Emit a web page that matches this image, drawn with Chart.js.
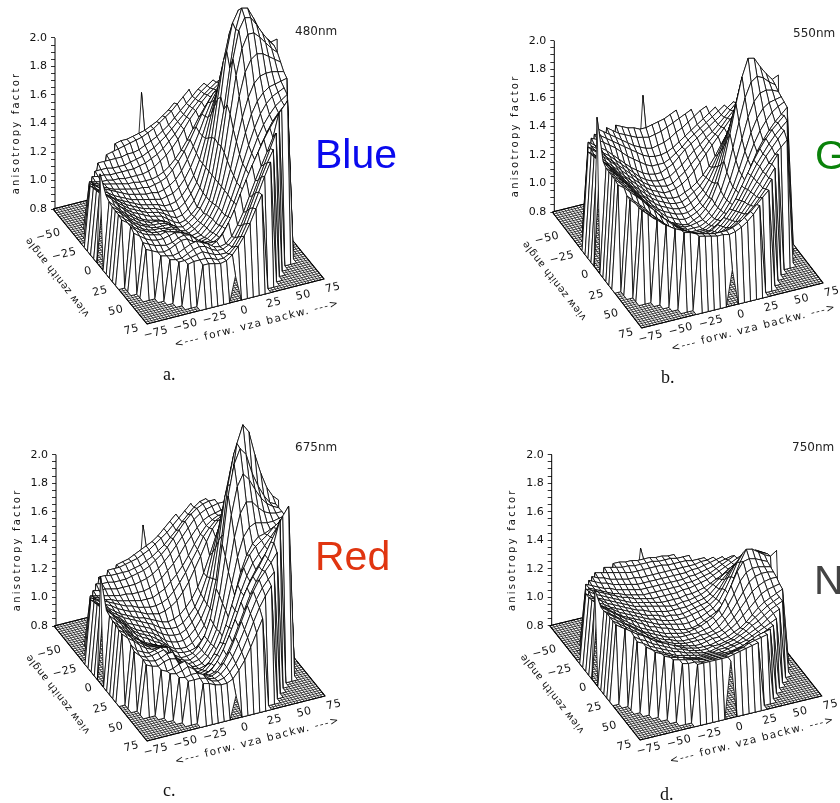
<!DOCTYPE html>
<html>
<head>
<meta charset="utf-8">
<style>
html, body { margin: 0; background: #fff; }
body { position: relative; width: 840px; height: 803px; overflow: hidden; }
canvas { position: absolute; display: block; }
.t { position: absolute; line-height: 1; white-space: nowrap; }
.nm { font: 12px/1 "DejaVu Sans"; color: #222; }
.band { font: 41px/1 "Liberation Sans"; }
.cap { font: 18px/1 "Liberation Serif"; color: #111; }
</style>
<script src="https://cdn.jsdelivr.net/npm/chart.js@4/dist/chart.umd.min.js"></script>
</head>
<body>
<canvas id="plotA" width="420" height="400" style="left:0;top:0"></canvas>
<canvas id="plotB" width="420" height="400" style="left:420px;top:0"></canvas>
<canvas id="plotC" width="420" height="400" style="left:0;top:403px"></canvas>
<canvas id="plotD" width="420" height="400" style="left:420px;top:403px"></canvas>

<div class="t nm" style="left:295px;top:25px">480nm</div>
<div class="t nm" style="left:793px;top:27px">550nm</div>
<div class="t nm" style="left:295px;top:441px">675nm</div>
<div class="t nm" style="left:792px;top:441px">750nm</div>
<div class="t band" style="left:315px;top:134px;color:#0a0aee">Blue</div>
<div class="t band" style="left:815px;top:135px;color:#0a820a">Green</div>
<div class="t band" style="left:315px;top:536px;color:#e03510">Red</div>
<div class="t band" style="left:814px;top:560px;color:#444">NIR</div>
<div class="t cap" style="left:163px;top:365px">a.</div>
<div class="t cap" style="left:661px;top:368px">b.</div>
<div class="t cap" style="left:163px;top:781px">c.</div>
<div class="t cap" style="left:660px;top:785px">d.</div>

<script>
// /---------------Axis values----------------/
const vzaGrid = [-75,-70,-65,-60,-55,-50,-45,-40,-35,-30,-25,-20,-15,-10,-5,0,5,10,15,20,25,30,35,40,45,50,55,60,65,70,75];
const forwTicks = [-75, -50, -25, 0, 25, 50, 75];
const viewTicks = [-50, -25, 0, 25, 50, 75];
const factorLabels = [0.8, 1.0, 1.2, 1.4, 1.6, 1.8, 2.0];
const floorValue = 0.8;

// /---------------Anisotropy factor, one row per view zenith angle (-75 to 75)----------------/
// rows only hold the cells inside the 75 degree circle, the rest of the grid sits on the floor
const blueRows = [
[1.46],
[1.18,1.19,1.19,1.20,1.21,1.22,1.24,1.26,1.29,1.32,1.36],
[1.15,1.16,1.17,1.18,1.19,1.20,1.21,1.23,1.25,1.28,1.31,1.34,1.38,1.42,1.46],
[1.14,1.14,1.14,1.14,1.14,1.15,1.15,1.16,1.18,1.20,1.22,1.25,1.28,1.32,1.36,1.40,1.44,1.48,1.51],
[1.12,1.12,1.12,1.11,1.11,1.11,1.12,1.13,1.14,1.16,1.18,1.21,1.24,1.28,1.32,1.36,1.41,1.45,1.49,1.52,1.55],
[1.12,1.11,1.11,1.10,1.10,1.10,1.10,1.10,1.11,1.12,1.14,1.16,1.19,1.23,1.27,1.32,1.37,1.42,1.46,1.50,1.53,1.56,1.58],
[1.12,1.11,1.10,1.10,1.09,1.09,1.08,1.08,1.08,1.08,1.09,1.11,1.14,1.17,1.21,1.26,1.32,1.38,1.43,1.48,1.52,1.55,1.58,1.60,1.62],
[1.14,1.12,1.11,1.10,1.09,1.08,1.07,1.07,1.06,1.06,1.06,1.07,1.09,1.12,1.16,1.21,1.27,1.34,1.41,1.47,1.53,1.57,1.60,1.62,1.64],
[1.17,1.15,1.13,1.11,1.09,1.08,1.07,1.06,1.05,1.05,1.04,1.05,1.06,1.08,1.12,1.17,1.23,1.30,1.38,1.46,1.53,1.59,1.63,1.66,1.68,1.70,1.72],
[1.19,1.16,1.14,1.12,1.10,1.08,1.06,1.05,1.04,1.03,1.03,1.02,1.03,1.05,1.08,1.13,1.20,1.28,1.37,1.47,1.56,1.63,1.68,1.72,1.75,1.77,1.79],
[1.22,1.19,1.16,1.14,1.11,1.09,1.07,1.05,1.04,1.03,1.02,1.01,1.00,1.01,1.02,1.05,1.10,1.17,1.26,1.37,1.49,1.60,1.69,1.76,1.80,1.82,1.84,1.85,1.86],
[1.23,1.20,1.17,1.14,1.11,1.09,1.07,1.05,1.03,1.02,1.01,1.00,.98,.98,.99,1.02,1.07,1.14,1.24,1.38,1.54,1.69,1.81,1.89,1.93,1.94,1.94,1.93,1.92],
[1.24,1.21,1.18,1.15,1.12,1.09,1.07,1.05,1.03,1.02,1.01,.99,.97,.96,.97,1.00,1.05,1.12,1.24,1.41,1.62,1.83,1.98,2.07,2.09,2.07,2.04,2.01,1.98],
[1.25,1.22,1.18,1.15,1.12,1.09,1.07,1.05,1.03,1.02,1.01,.99,.96,.94,.95,.98,1.03,1.11,1.24,1.44,1.70,1.96,2.14,2.22,2.22,2.18,2.12,2.07,2.03],
[1.26,1.22,1.18,1.15,1.12,1.09,1.07,1.05,1.03,1.02,1.01,.98,.95,.93,.94,.97,1.01,1.10,1.24,1.46,1.74,2.05,2.24,2.32,2.31,2.24,2.17,2.10,2.06],
[1.45,1.29,1.25,1.20,1.16,1.12,1.09,1.06,1.04,1.03,1.02,1.00,.97,.94,.93,.95,.98,1.03,1.10,1.24,1.45,1.68,1.96,2.22,2.36,2.35,2.27,2.18,2.11,2.07,2.08],
[1.27,1.23,1.19,1.15,1.12,1.09,1.07,1.05,1.05,1.04,1.02,.98,.94,.93,.95,.98,1.02,1.10,1.24,1.46,1.74,2.05,2.24,2.32,2.31,2.25,2.18,2.12,2.07],
[1.26,1.23,1.19,1.15,1.12,1.09,1.07,1.06,1.06,1.05,1.03,.99,.95,.94,.96,.99,1.04,1.11,1.24,1.44,1.70,1.96,2.14,2.23,2.23,2.19,2.14,2.09,2.05],
[1.26,1.23,1.19,1.15,1.12,1.10,1.08,1.07,1.07,1.07,1.05,1.00,.96,.95,.96,1.00,1.05,1.12,1.24,1.41,1.62,1.84,2.00,2.08,2.11,2.10,2.07,2.04,2.01],
[1.26,1.22,1.19,1.15,1.12,1.10,1.09,1.09,1.08,1.08,1.06,1.01,.97,.96,.97,1.01,1.06,1.13,1.24,1.38,1.56,1.72,1.85,1.94,1.98,1.99,1.99,1.98,1.97],
[1.25,1.22,1.18,1.15,1.13,1.11,1.10,1.10,1.10,1.09,1.07,1.03,.99,.97,.98,1.01,1.06,1.13,1.24,1.36,1.50,1.64,1.76,1.84,1.89,1.92,1.93,1.94,1.95],
[1.22,1.18,1.15,1.13,1.12,1.11,1.12,1.11,1.10,1.08,1.05,1.01,.99,1.00,1.03,1.07,1.13,1.23,1.34,1.46,1.58,1.69,1.78,1.84,1.88,1.90,1.92],
[1.20,1.17,1.14,1.12,1.11,1.11,1.12,1.13,1.12,1.10,1.06,1.03,1.01,1.01,1.04,1.09,1.15,1.24,1.34,1.45,1.55,1.65,1.73,1.79,1.84,1.87,1.90],
[1.15,1.13,1.11,1.10,1.09,1.10,1.12,1.13,1.12,1.08,1.05,1.03,1.03,1.05,1.10,1.16,1.24,1.34,1.44,1.53,1.62,1.70,1.77,1.82,1.86],
[1.13,1.11,1.09,1.08,1.09,1.11,1.13,1.13,1.10,1.07,1.05,1.04,1.06,1.10,1.17,1.25,1.35,1.44,1.53,1.61,1.69,1.76,1.82,1.87,1.92],
[1.09,1.08,1.07,1.08,1.10,1.12,1.13,1.11,1.09,1.06,1.05,1.06,1.10,1.17,1.25,1.35,1.45,1.54,1.63,1.72,1.88],
[1.08,1.07,1.07,1.09,1.11,1.12,1.11,1.08,1.06,1.06,1.08,1.12,1.19,1.28,1.38,1.48,1.58,1.68,1.78],
[1.08,1.08,1.09,1.10,1.11,1.09,1.07,1.06,1.06,1.09,1.15,1.23,1.33,1.43,1.53,1.62,1.70],
[1.08,1.09,1.09,1.09,1.08,1.06,1.06,1.08,1.12,1.18,1.26,1.36,1.46,1.56,1.65],
[1.08,1.08,1.07,1.06,1.07,1.10,1.15,1.21,1.29,1.38,1.47],
[.98]
];
const greenRows = [
[1.46],
[1.33,1.31,1.29,1.28,1.26,1.26,1.27,1.28,1.29,1.31,1.33],
[1.36,1.33,1.30,1.28,1.26,1.24,1.23,1.22,1.23,1.24,1.26,1.28,1.30,1.32,1.34],
[1.40,1.37,1.34,1.31,1.28,1.25,1.22,1.20,1.18,1.17,1.18,1.19,1.21,1.24,1.26,1.29,1.32,1.35,1.37],
[1.40,1.38,1.35,1.32,1.29,1.26,1.23,1.20,1.17,1.15,1.14,1.14,1.15,1.17,1.20,1.23,1.26,1.29,1.32,1.35,1.38],
[1.41,1.39,1.36,1.33,1.30,1.26,1.22,1.19,1.16,1.13,1.11,1.11,1.11,1.13,1.16,1.19,1.23,1.26,1.29,1.32,1.35,1.38,1.41],
[1.42,1.39,1.36,1.33,1.29,1.25,1.21,1.17,1.14,1.11,1.09,1.08,1.08,1.10,1.12,1.16,1.20,1.23,1.26,1.29,1.32,1.35,1.38,1.42,1.45],
[1.42,1.39,1.35,1.32,1.28,1.24,1.20,1.16,1.12,1.09,1.07,1.06,1.06,1.07,1.10,1.13,1.17,1.21,1.24,1.28,1.31,1.35,1.39,1.43,1.47],
[1.45,1.42,1.39,1.35,1.31,1.27,1.23,1.19,1.15,1.11,1.08,1.06,1.05,1.04,1.05,1.08,1.11,1.15,1.19,1.23,1.28,1.32,1.36,1.41,1.45,1.49,1.52],
[1.46,1.43,1.39,1.35,1.31,1.26,1.22,1.18,1.14,1.10,1.07,1.05,1.03,1.03,1.04,1.06,1.09,1.13,1.18,1.23,1.28,1.33,1.38,1.43,1.48,1.52,1.56],
[1.48,1.45,1.42,1.38,1.34,1.30,1.25,1.21,1.17,1.13,1.09,1.06,1.04,1.02,1.01,1.01,1.03,1.05,1.08,1.12,1.17,1.23,1.30,1.37,1.43,1.49,1.54,1.58,1.62],
[1.49,1.46,1.42,1.38,1.34,1.29,1.25,1.20,1.16,1.12,1.08,1.05,1.03,1.01,1.00,1.00,1.02,1.05,1.08,1.13,1.19,1.27,1.36,1.44,1.52,1.58,1.62,1.65,1.68],
[1.50,1.47,1.43,1.39,1.34,1.29,1.24,1.20,1.15,1.11,1.07,1.04,1.02,1.00,.99,.99,1.01,1.04,1.08,1.14,1.22,1.32,1.43,1.54,1.63,1.69,1.72,1.73,1.74],
[1.51,1.48,1.44,1.39,1.34,1.29,1.24,1.19,1.15,1.10,1.06,1.03,1.01,.99,.98,.98,1.00,1.03,1.08,1.15,1.25,1.38,1.52,1.66,1.76,1.81,1.81,1.80,1.78],
[1.52,1.48,1.44,1.39,1.34,1.29,1.24,1.19,1.14,1.10,1.06,1.02,1.00,.98,.97,.98,1.00,1.03,1.08,1.17,1.29,1.45,1.62,1.78,1.88,1.91,1.88,1.84,1.81],
[1.87,1.55,1.49,1.44,1.39,1.34,1.29,1.24,1.18,1.13,1.09,1.05,1.01,.99,.97,.96,.98,1.00,1.04,1.10,1.20,1.34,1.52,1.72,1.90,2.02,2.01,1.94,1.88,1.83,1.85],
[1.53,1.49,1.45,1.40,1.35,1.30,1.25,1.19,1.14,1.10,1.06,1.03,1.00,.98,.98,.99,1.00,1.04,1.09,1.17,1.29,1.45,1.62,1.78,1.88,1.91,1.89,1.85,1.82],
[1.53,1.49,1.45,1.41,1.36,1.31,1.26,1.20,1.15,1.11,1.07,1.04,1.01,.99,.99,.99,1.01,1.04,1.09,1.16,1.26,1.39,1.53,1.67,1.77,1.82,1.83,1.82,1.80],
[1.53,1.49,1.45,1.41,1.36,1.31,1.26,1.21,1.16,1.12,1.08,1.05,1.02,1.00,1.00,1.00,1.02,1.05,1.10,1.16,1.24,1.35,1.47,1.59,1.68,1.74,1.77,1.78,1.79],
[1.53,1.49,1.45,1.41,1.36,1.31,1.27,1.22,1.18,1.13,1.10,1.07,1.04,1.02,1.02,1.02,1.04,1.07,1.11,1.17,1.25,1.34,1.44,1.54,1.62,1.68,1.73,1.76,1.78],
[1.52,1.49,1.45,1.41,1.37,1.32,1.28,1.23,1.19,1.15,1.11,1.08,1.06,1.04,1.04,1.04,1.06,1.09,1.13,1.18,1.25,1.33,1.42,1.51,1.58,1.64,1.69,1.73,1.77],
[1.46,1.42,1.38,1.34,1.29,1.25,1.21,1.17,1.14,1.11,1.09,1.07,1.06,1.06,1.07,1.10,1.14,1.19,1.25,1.33,1.41,1.49,1.56,1.62,1.67,1.71,1.75],
[1.46,1.42,1.38,1.34,1.30,1.26,1.22,1.19,1.16,1.13,1.11,1.09,1.08,1.08,1.09,1.12,1.16,1.21,1.27,1.34,1.42,1.49,1.55,1.61,1.66,1.70,1.74],
[1.42,1.38,1.34,1.30,1.26,1.23,1.20,1.18,1.15,1.13,1.11,1.10,1.10,1.11,1.14,1.18,1.23,1.29,1.36,1.43,1.50,1.56,1.61,1.66,1.71],
[1.43,1.39,1.35,1.31,1.28,1.25,1.22,1.20,1.18,1.16,1.14,1.13,1.13,1.14,1.16,1.20,1.25,1.31,1.37,1.43,1.49,1.54,1.59,1.63,1.67],
[1.37,1.33,1.30,1.27,1.24,1.22,1.20,1.18,1.17,1.16,1.16,1.17,1.19,1.22,1.27,1.32,1.38,1.44,1.50,1.56,1.62],
[1.35,1.32,1.29,1.27,1.25,1.23,1.21,1.20,1.19,1.19,1.20,1.22,1.25,1.29,1.34,1.39,1.44,1.50,1.56],
[1.34,1.32,1.30,1.28,1.26,1.25,1.24,1.23,1.23,1.24,1.25,1.28,1.32,1.36,1.41,1.46,1.52],
[1.33,1.32,1.30,1.29,1.28,1.27,1.27,1.27,1.28,1.30,1.33,1.36,1.40,1.44,1.48],
[1.31,1.30,1.29,1.28,1.28,1.27,1.28,1.30,1.33,1.37,1.42],
[1.05]
];
const redRows = [
[1.35],
[1.15,1.16,1.17,1.19,1.21,1.23,1.25,1.28,1.32,1.36,1.40],
[1.16,1.16,1.16,1.17,1.18,1.19,1.21,1.23,1.26,1.29,1.32,1.36,1.40,1.44,1.48],
[1.16,1.16,1.15,1.15,1.15,1.15,1.16,1.17,1.19,1.21,1.24,1.27,1.31,1.35,1.40,1.44,1.48,1.51,1.52],
[1.15,1.14,1.14,1.13,1.13,1.13,1.14,1.15,1.16,1.18,1.21,1.24,1.28,1.33,1.38,1.43,1.47,1.50,1.52,1.53,1.53],
[1.14,1.13,1.13,1.12,1.11,1.11,1.11,1.11,1.12,1.13,1.15,1.18,1.22,1.26,1.31,1.36,1.41,1.46,1.49,1.51,1.52,1.53,1.53],
[1.14,1.13,1.12,1.11,1.10,1.09,1.09,1.08,1.08,1.08,1.09,1.11,1.14,1.18,1.22,1.27,1.33,1.38,1.43,1.47,1.49,1.50,1.51,1.52,1.52],
[1.16,1.14,1.12,1.11,1.09,1.08,1.07,1.06,1.05,1.05,1.05,1.07,1.09,1.13,1.17,1.22,1.28,1.35,1.41,1.46,1.49,1.51,1.51,1.52,1.52],
[1.19,1.17,1.15,1.13,1.11,1.09,1.07,1.06,1.04,1.03,1.02,1.02,1.03,1.05,1.09,1.14,1.20,1.27,1.34,1.42,1.47,1.51,1.53,1.53,1.53,1.54,1.54],
[1.21,1.18,1.15,1.13,1.10,1.08,1.06,1.05,1.03,1.01,1.00,.99,1.00,1.02,1.05,1.10,1.16,1.24,1.32,1.41,1.49,1.54,1.56,1.56,1.56,1.56,1.56],
[1.24,1.21,1.18,1.15,1.12,1.09,1.07,1.05,1.03,1.02,1.00,.98,.96,.95,.96,.98,1.02,1.07,1.14,1.23,1.34,1.46,1.56,1.61,1.63,1.63,1.62,1.62,1.62],
[1.25,1.22,1.19,1.15,1.12,1.09,1.07,1.05,1.03,1.01,.99,.96,.94,.93,.93,.95,.99,1.04,1.12,1.23,1.39,1.55,1.68,1.75,1.76,1.74,1.71,1.69,1.67],
[1.26,1.23,1.19,1.15,1.12,1.08,1.06,1.04,1.02,1.00,.97,.94,.92,.91,.91,.93,.97,1.03,1.11,1.25,1.45,1.68,1.84,1.91,1.90,1.85,1.79,1.75,1.72],
[1.27,1.24,1.20,1.16,1.12,1.08,1.05,1.03,1.01,.99,.96,.92,.90,.89,.89,.91,.95,1.01,1.10,1.27,1.53,1.82,2.01,2.09,2.04,1.96,1.88,1.82,1.77],
[1.28,1.24,1.20,1.16,1.12,1.08,1.05,1.03,1.01,.98,.95,.91,.88,.87,.87,.89,.93,.99,1.10,1.29,1.59,1.93,2.14,2.24,2.19,2.05,1.95,1.86,1.80],
[1.55,1.30,1.26,1.21,1.17,1.12,1.08,1.05,1.03,1.00,.98,.95,.91,.88,.87,.87,.88,.92,.98,1.10,1.30,1.60,1.96,2.24,2.36,2.30,2.13,1.99,1.88,1.81,1.77],
[1.29,1.25,1.21,1.16,1.11,1.07,1.04,1.02,1.00,.98,.95,.90,.87,.87,.88,.92,.98,1.09,1.29,1.59,1.92,2.13,2.23,2.18,2.04,1.94,1.86,1.80,1.78],
[1.28,1.24,1.20,1.16,1.12,1.08,1.05,1.04,1.02,.99,.95,.90,.88,.87,.89,.92,.98,1.08,1.27,1.53,1.81,2.00,2.08,2.03,1.95,1.88,1.83,1.80,1.78],
[1.28,1.24,1.20,1.16,1.13,1.09,1.07,1.06,1.05,1.01,.95,.91,.88,.88,.89,.92,.98,1.07,1.24,1.45,1.68,1.84,1.91,1.90,1.85,1.81,1.79,1.78,1.78],
[1.27,1.24,1.20,1.16,1.13,1.10,1.09,1.08,1.07,1.02,.96,.92,.89,.88,.89,.93,.99,1.08,1.22,1.39,1.57,1.70,1.76,1.78,1.77,1.76,1.76,1.77,1.78],
[1.27,1.23,1.20,1.16,1.13,1.11,1.11,1.11,1.09,1.02,.96,.92,.90,.89,.90,.93,.99,1.07,1.19,1.34,1.49,1.60,1.67,1.71,1.72,1.74,1.76,1.78,1.80],
[1.21,1.16,1.14,1.12,1.13,1.14,1.13,1.04,.98,.93,.91,.90,.91,.94,1.00,1.07,1.18,1.31,1.44,1.55,1.63,1.68,1.71,1.74,1.78,1.81,1.85],
[1.19,1.15,1.13,1.13,1.14,1.15,1.11,1.03,.97,.94,.92,.92,.93,.97,1.02,1.09,1.19,1.30,1.42,1.52,1.60,1.65,1.70,1.75,1.80,1.84,1.88],
[1.15,1.13,1.12,1.13,1.15,1.15,1.07,1.01,.97,.95,.94,.95,.98,1.03,1.11,1.21,1.31,1.42,1.51,1.58,1.64,1.70,1.77,1.85,1.92],
[1.14,1.12,1.11,1.13,1.14,1.13,1.07,1.01,.98,.97,.97,.99,1.04,1.11,1.20,1.30,1.41,1.50,1.57,1.63,1.70,1.78,1.86,1.94,2.00],
[1.11,1.09,1.10,1.12,1.13,1.09,1.04,1.00,.99,1.00,1.04,1.10,1.18,1.28,1.38,1.48,1.56,1.63,1.70,1.80,1.95],
[1.10,1.09,1.10,1.12,1.09,1.04,1.01,1.01,1.03,1.08,1.15,1.24,1.34,1.44,1.53,1.60,1.65,1.70,1.76],
[1.09,1.08,1.09,1.09,1.07,1.03,1.02,1.04,1.08,1.14,1.22,1.31,1.41,1.50,1.57,1.62,1.66],
[1.08,1.08,1.08,1.07,1.04,1.03,1.04,1.07,1.12,1.19,1.28,1.38,1.47,1.54,1.60],
[1.07,1.06,1.04,1.03,1.03,1.05,1.10,1.16,1.24,1.33,1.42],
[.96]
];
const nirRows = [
[1.19],
[1.16,1.16,1.15,1.15,1.14,1.14,1.14,1.13,1.13,1.12,1.12],
[1.18,1.17,1.16,1.15,1.15,1.14,1.14,1.14,1.14,1.13,1.13,1.13,1.12,1.12,1.12],
[1.19,1.18,1.17,1.16,1.15,1.14,1.13,1.13,1.13,1.13,1.13,1.13,1.12,1.12,1.12,1.12,1.11,1.11,1.11],
[1.20,1.18,1.17,1.15,1.14,1.13,1.12,1.12,1.11,1.11,1.11,1.11,1.11,1.11,1.11,1.11,1.11,1.11,1.12,1.12,1.13],
[1.21,1.19,1.17,1.16,1.14,1.13,1.12,1.11,1.10,1.10,1.10,1.10,1.10,1.10,1.10,1.10,1.10,1.11,1.11,1.12,1.13,1.14,1.15],
[1.22,1.20,1.18,1.16,1.15,1.13,1.12,1.11,1.10,1.09,1.09,1.09,1.09,1.09,1.09,1.09,1.09,1.10,1.10,1.11,1.12,1.13,1.15,1.16,1.17],
[1.22,1.20,1.18,1.16,1.14,1.13,1.11,1.10,1.09,1.08,1.08,1.08,1.08,1.08,1.08,1.08,1.09,1.09,1.10,1.11,1.12,1.14,1.16,1.18,1.20],
[1.25,1.23,1.21,1.19,1.17,1.15,1.13,1.12,1.10,1.09,1.08,1.07,1.07,1.07,1.07,1.07,1.08,1.08,1.09,1.10,1.11,1.13,1.15,1.17,1.19,1.21,1.23],
[1.26,1.23,1.21,1.19,1.17,1.15,1.13,1.11,1.10,1.09,1.08,1.07,1.06,1.06,1.06,1.06,1.07,1.07,1.08,1.09,1.11,1.13,1.15,1.18,1.20,1.22,1.25],
[1.28,1.25,1.23,1.21,1.19,1.17,1.15,1.13,1.11,1.10,1.09,1.08,1.07,1.06,1.05,1.05,1.06,1.06,1.07,1.08,1.10,1.13,1.16,1.19,1.22,1.25,1.27,1.29,1.30],
[1.28,1.26,1.24,1.21,1.19,1.17,1.15,1.13,1.11,1.10,1.08,1.07,1.06,1.05,1.05,1.05,1.05,1.06,1.07,1.08,1.10,1.14,1.18,1.22,1.26,1.29,1.31,1.32,1.32],
[1.29,1.26,1.24,1.21,1.19,1.17,1.15,1.13,1.11,1.09,1.08,1.07,1.05,1.05,1.04,1.04,1.05,1.06,1.07,1.08,1.11,1.15,1.21,1.27,1.31,1.34,1.35,1.35,1.34],
[1.30,1.27,1.24,1.22,1.19,1.17,1.15,1.13,1.11,1.09,1.08,1.06,1.05,1.04,1.04,1.04,1.05,1.06,1.07,1.09,1.12,1.18,1.25,1.32,1.37,1.39,1.39,1.37,1.36],
[1.31,1.28,1.25,1.22,1.19,1.17,1.15,1.13,1.11,1.09,1.07,1.06,1.05,1.04,1.03,1.03,1.04,1.05,1.07,1.09,1.13,1.20,1.28,1.37,1.43,1.44,1.42,1.40,1.38],
[1.45,1.32,1.29,1.26,1.23,1.20,1.18,1.15,1.13,1.10,1.09,1.07,1.06,1.04,1.03,1.02,1.02,1.03,1.05,1.07,1.09,1.13,1.20,1.30,1.40,1.48,1.47,1.44,1.41,1.39,1.42],
[1.32,1.29,1.26,1.23,1.20,1.17,1.14,1.12,1.10,1.08,1.06,1.05,1.04,1.03,1.03,1.04,1.05,1.07,1.09,1.13,1.20,1.28,1.37,1.43,1.44,1.43,1.41,1.39],
[1.33,1.30,1.27,1.23,1.20,1.17,1.14,1.12,1.10,1.08,1.06,1.05,1.04,1.04,1.04,1.04,1.05,1.06,1.09,1.12,1.18,1.25,1.33,1.38,1.40,1.40,1.39,1.38],
[1.33,1.30,1.27,1.24,1.21,1.18,1.15,1.12,1.10,1.08,1.07,1.05,1.04,1.04,1.04,1.05,1.05,1.06,1.08,1.12,1.16,1.22,1.28,1.34,1.37,1.38,1.38,1.37],
[1.33,1.30,1.27,1.24,1.21,1.18,1.15,1.13,1.10,1.09,1.07,1.06,1.05,1.05,1.05,1.05,1.06,1.07,1.08,1.11,1.15,1.20,1.25,1.30,1.33,1.35,1.36,1.36],
[1.33,1.30,1.27,1.24,1.21,1.18,1.16,1.14,1.11,1.09,1.08,1.07,1.06,1.05,1.05,1.06,1.07,1.07,1.09,1.11,1.14,1.18,1.22,1.26,1.30,1.32,1.33,1.34],
[1.32,1.29,1.26,1.24,1.21,1.18,1.16,1.14,1.12,1.10,1.08,1.07,1.06,1.06,1.06,1.07,1.08,1.09,1.11,1.13,1.16,1.20,1.24,1.27,1.29,1.31,1.33],
[1.28,1.25,1.23,1.20,1.18,1.16,1.14,1.12,1.11,1.09,1.08,1.07,1.07,1.08,1.08,1.09,1.10,1.12,1.15,1.18,1.21,1.24,1.27,1.29,1.31],
[1.27,1.25,1.22,1.20,1.18,1.16,1.14,1.13,1.11,1.10,1.09,1.08,1.08,1.09,1.10,1.11,1.12,1.14,1.16,1.19,1.21,1.24,1.27,1.29,1.31],
[1.25,1.22,1.20,1.18,1.16,1.14,1.13,1.12,1.11,1.10,1.10,1.10,1.11,1.11,1.12,1.13,1.15,1.17,1.19,1.21,1.24,1.27,1.29],
[1.23,1.21,1.19,1.17,1.15,1.14,1.13,1.12,1.12,1.12,1.12,1.12,1.13,1.14,1.15,1.16,1.18,1.20,1.22,1.24,1.26],
[1.22,1.20,1.19,1.18,1.16,1.15,1.14,1.14,1.14,1.14,1.14,1.14,1.15,1.16,1.18,1.19,1.21,1.23,1.25],
[1.21,1.20,1.19,1.18,1.17,1.16,1.16,1.16,1.16,1.16,1.17,1.18,1.20,1.22,1.24,1.25,1.26],
[1.20,1.19,1.19,1.18,1.18,1.18,1.18,1.18,1.19,1.20,1.21,1.23,1.24,1.25,1.26],
[1.20,1.20,1.20,1.20,1.20,1.20,1.21,1.22,1.23,1.24,1.25],
[1.20]
];

// /---------------Where each panel sits on the page----------------/
const panels = [
    { id: 'plotA', left: 0, top: 0, rows: blueRows, axisX: 55, y08: 209, y20: 38, front: [147, 324], right: [324, 279] },
    { id: 'plotB', left: 420, top: 0, rows: greenRows, axisX: 554.3, y08: 212, y20: 40.7, front: [641.7, 328], right: [823, 283] },
    { id: 'plotC', left: 0, top: 403, rows: redRows, axisX: 56, y08: 626, y20: 454.7, front: [147, 741], right: [325, 696] },
    { id: 'plotD', left: 420, top: 403, rows: nirRows, axisX: 551.7, y08: 625.7, y20: 454.7, front: [640, 740], right: [821.7, 696] }
];

// /---------------View projection of the 3D box into the chart's own x and y values----------------/
function project(p, u, v, z) {
    const perUnit = (p.y08 - p.y20) / 1.2;
    const leftX = p.axisX - 2;
    const gx = p.front[0] + (u + 75) / 150 * (p.right[0] - p.front[0]) + (v - 75) / 150 * (p.front[0] - leftX);
    const gy = p.front[1] + (u + 75) / 150 * (p.right[1] - p.front[1]) + (v - 75) / 150 * (p.front[1] - p.y08);
    return { x: gx - p.axisX, y: 0.8 - (gy - p.y08) / perUnit + (z - 0.8) };
}

function padRow(row) {
    const side = Math.floor((vzaGrid.length - row.length) / 2);
    const out = [];
    for (let i = 0; i < side; i++) out.push(floorValue);
    row.forEach(val => out.push(val));
    while (out.length < vzaGrid.length) out.push(floorValue);
    return out;
}

// painter's order, chart.js draws the last dataset first so the nearest cell goes in first
function surfaceDatasets(p) {
    const grid = p.rows.map(padRow);
    const sets = [];
    for (let j = vzaGrid.length - 2; j >= 0; j--) {
        for (let i = 0; i < vzaGrid.length - 1; i++) {
            const corners = [[i, j], [i + 1, j], [i + 1, j + 1], [i, j + 1], [i, j]];
            if (corners.every(c => grid[c[1]][c[0]] === floorValue)) continue;
            sets.push({
                data: corners.map(c => project(p, vzaGrid[c[0]], vzaGrid[c[1]], grid[c[1]][c[0]])),
                showLine: true,
                fill: 'shape',
                backgroundColor: '#fff',
                borderColor: '#000',
                borderWidth: 0.8,
                borderJoinStyle: 'round',
                borderDash: [10000, 1], // solid, but keeps chart.js off its fast path that merges close x values
                pointRadius: 0,
                tension: 0,
                clip: false
            });
        }
    }
    return sets;
}

function floorDataset(p) {
    const pts = [];
    let flip = false;
    for (let a = -75; a <= 75; a += 2.5) {
        pts.push(project(p, a, flip ? 75 : -75, 0.8));
        pts.push(project(p, a, flip ? -75 : 75, 0.8));
        flip = !flip;
    }
    flip = false;
    for (let a = 75; a >= -75; a -= 2.5) {
        pts.push(project(p, flip ? -75 : 75, a, 0.8));
        pts.push(project(p, flip ? 75 : -75, a, 0.8));
        flip = !flip;
    }
    return { data: pts, showLine: true, borderColor: '#000', borderWidth: 0.7, borderDash: [10000, 1], pointRadius: 0, tension: 0, clip: false };
}

function boxDataset(p) {
    const pts = [project(p, -75, -75, 0.8), project(p, -75, 75, 0.8), project(p, 75, 75, 0.8), project(p, 75, -75, 0.8), project(p, -75, -75, 0.8)];
    return { data: pts, showLine: true, borderColor: '#000', borderWidth: 1.1, borderDash: [10000, 1], pointRadius: 0, tension: 0, clip: false };
}

function axisDataset() {
    return { data: [{ x: 0, y: 0.8 }, { x: 0, y: 2.0 }], showLine: true, borderColor: '#000', borderWidth: 1, pointRadius: 0, tension: 0, clip: false };
}

function rotatedText(ctx, text, x, y, angle, font, spacing, align) {
    ctx.save();
    ctx.translate(x, y);
    ctx.rotate(angle * Math.PI / 180);
    ctx.font = font;
    ctx.letterSpacing = spacing;
    ctx.textAlign = align;
    ctx.textBaseline = 'middle';
    ctx.fillStyle = '#111';
    ctx.fillText(text, 0, 0);
    ctx.restore();
}

// /---------------Labels that lie on the floor of the box----------------/
const boxLabels = {
    id: 'boxLabels',
    afterDraw(chart) {
        const p = chart.options.plugins.boxLabels.panel;
        const ctx = chart.ctx;
        const sx = chart.scales.x;
        const sy = chart.scales.y;
        const at = (u, v) => {
            const pt = project(p, u, v, 0.8);
            return [sx.getPixelForValue(pt.x), sy.getPixelForValue(pt.y)];
        };
        const tickFont = '11px "DejaVu Sans"';
        forwTicks.forEach(t => {
            const g = at(t, 75);
            rotatedText(ctx, String(t).replace('-', '\u2212'), g[0] + 9, g[1] + 9, -14, tickFont, '0.6px', 'center');
        });
        viewTicks.forEach(t => {
            const g = at(-75, t);
            rotatedText(ctx, String(t).replace('-', '\u2212'), g[0] - 8, g[1] + 4, -14, tickFont, '0.6px', 'right');
        });
        const mid = at(0, 75);
        rotatedText(ctx, '<--- forw. vza backw. --->', mid[0] + 21.5, mid[1] + 22.5, -14.2, '10.5px "DejaVu Sans"', '1.4px', 'center');
        const side = at(-75, 0);
        rotatedText(ctx, 'view zenith angle', side[0] - 42.5, side[1] + 10.5, -128, '10px "DejaVu Sans"', '0.6px', 'center');
        const mz = sy.getPixelForValue(1.4) + 9.5;
        rotatedText(ctx, 'anisotropy factor', sx.getPixelForValue(0) - 39, mz, -90, '10px "DejaVu Sans"', '2.2px', 'center');
    }
};

// /---------------Create the four panels----------------/
panels.forEach(p => {
    const perUnit = (p.y08 - p.y20) / 1.2;
    const localY = p.y08 - p.top;
    const localX = p.axisX - p.left;
    const sets = surfaceDatasets(p);
    sets.push(axisDataset());
    sets.push(boxDataset(p));
    sets.push(floorDataset(p));

    new Chart(document.getElementById(p.id).getContext('2d'), {
        type: 'scatter',
        data: { datasets: sets },
        plugins: [boxLabels],
        options: {
            responsive: false,
            animation: false,
            events: [],
            layout: { padding: 0 },
            scales: {
                x: { type: 'linear', display: false, min: 0, max: 420 - localX },
                y: {
                    type: 'linear',
                    min: 0.8 - (400 - localY) / perUnit,
                    max: 0.8 + localY / perUnit,
                    border: { display: false },
                    grid: { drawOnChartArea: false, drawTicks: true, tickLength: 4, tickColor: '#000', tickWidth: 0.8 },
                    ticks: {
                        autoSkip: false,
                        padding: 4,
                        color: '#111',
                        font: { family: 'DejaVu Sans', size: 11 },
                        callback: val => factorLabels.includes(+Number(val).toFixed(2)) ? Number(val).toFixed(1) : ''
                    },
                    afterBuildTicks: scale => {
                        const list = [];
                        for (let n = 0; n <= 24; n++) list.push({ value: +(0.8 + n * 0.05).toFixed(2) });
                        scale.ticks = list;
                    },
                    afterFit: scale => {
                        scale.width = localX;
                        scale.paddingTop = 0;
                        scale.paddingBottom = 0;
                    }
                }
            },
            plugins: {
                legend: { display: false },
                tooltip: { enabled: false },
                boxLabels: { panel: p }
            }
        }
    });
});
</script>
</body>
</html>
